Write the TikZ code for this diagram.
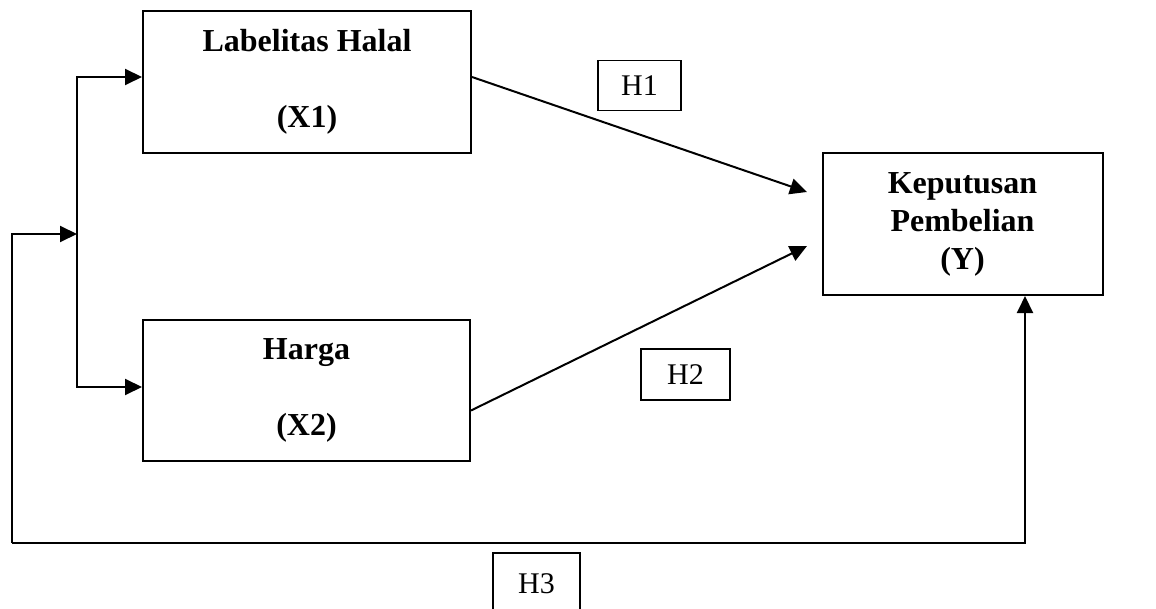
\documentclass[tikz,border=0pt]{standalone}
\usepackage{fontspec}
\setmainfont{Liberation Serif}
\usepackage{tikz}
\usetikzlibrary{arrows.meta}

\tikzset{
  var/.style={draw,line width=1pt,align=center,font=\fontsize{16}{19}\selectfont\bfseries},
  hyp/.style={draw,line width=0.8pt,font=\fontsize{15}{18}\selectfont}
}

\begin{document}
\begin{tikzpicture}[x=0.5pt,y=-0.5pt,>={Triangle[length=8.5pt,width=8pt]},line width=1pt]
  \useasboundingbox (0,0) rectangle (1156,609);

  \node[var,minimum width=164pt,minimum height=71pt] (x1) at (307,82)
       {Labelitas Halal\\[19pt](X1)};
  \node[var,minimum width=163.5pt,minimum height=70.5pt] (x2) at (306.5,390.5)
       {Harga\\[19pt](X2)};
  \node[var,minimum width=140pt,minimum height=71pt] (y) at (962.5,224)
       {Keputusan\\Pembelian\\(Y)};

  \node[hyp,minimum width=41.5pt,minimum height=25pt] (h1) at (639.5,85.5) {H1};
  \node[hyp,minimum width=44.5pt,minimum height=25.5pt] (h2) at (685.5,374.5) {H2};
  \node[hyp,minimum width=43.5pt,minimum height=31pt] (h3) at (536.5,584) {H3};

  \coordinate (split) at (77,234);
  \coordinate (fb) at (12,543);
  \coordinate (y1) at (807,192);
  \coordinate (y2) at (807,246);

  \path[->] ([yshift=2.5pt]x1.east) edge (y1)
            ([yshift=-10pt]x2.east) edge (y2);
  \draw[->] (split) |- ([yshift=2.5pt]x1.west);
  \draw[->] (split) |- ([yshift=1.75pt]x2.west);
  \draw[->] (fb) |- (split);
  \draw[->] (fb) -| ([xshift=31.25pt]y.south);
\end{tikzpicture}
\end{document}
